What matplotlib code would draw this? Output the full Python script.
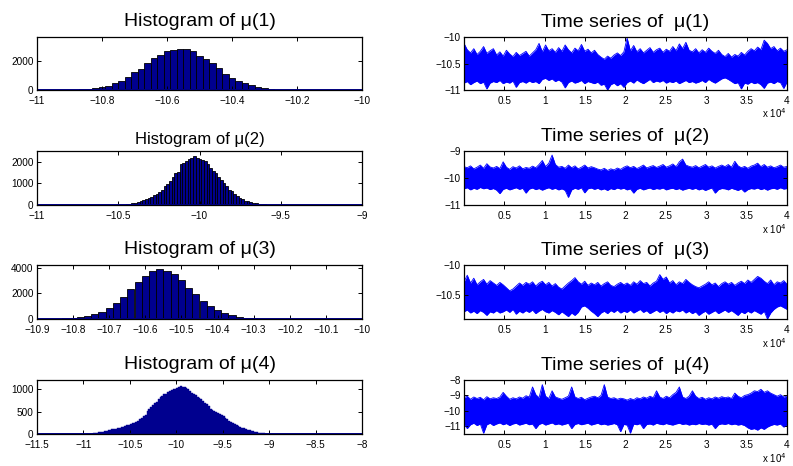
import numpy as np
import matplotlib
matplotlib.use("Agg")
import matplotlib.pyplot as plt
from matplotlib.ticker import FuncFormatter

plt.rcParams["font.family"] = ["Liberation Sans", "DejaVu Sans"]

# ---- histogram counts (bin start, bin width, counts) ----
h1_start, h1_width = -10.93, 0.02
h1_counts = [2, 6, 15, 35, 70, 120, 210, 300, 490, 660, 920, 1270, 1500, 1880, 2260,
             2470, 2700, 2820, 2890, 2890, 2750, 2400, 2160, 1860, 1530, 1130, 870, 660,
             520, 330, 210, 120, 70, 30, 15, 8, 4, 2, 1, 1, 1, 0, 0, 0, 1]

h2_start, h2_width = -10.60, 0.0165
h2_counts = [1, 1, 2, 3, 4, 6, 9, 14, 20, 30,
             45, 75, 110, 140, 185, 245, 280, 320, 385, 445, 520, 585, 710, 860, 970,
             1090, 1310, 1460, 1540, 1890, 1960, 2040, 2110, 2190, 2270, 2190, 2110, 2100,
             2060, 1890, 1710, 1580, 1460, 1310, 1150, 1000, 860, 710, 630, 510, 415, 340,
             280, 200, 170, 125, 90, 75, 60, 45, 30, 15,
             10, 6, 4, 2, 1, 1]

h3_start, h3_width = -10.89, 0.02
h3_counts = [5, 10, 20, 40,
             80, 130, 210, 415, 545, 830, 1270, 1740, 2310, 2910, 3350, 3740, 3870, 3740,
             3480, 3010, 2390, 1970, 1430, 1040, 700, 470, 285, 155, 105, 50,
             25, 12, 6, 3, 2, 1, 1, 0, 0, 1]

h4_start, h4_width = -10.96, 0.02
h4_counts = [3, 5, 8, 12, 20, 28, 35, 45, 55, 65,
             75, 85, 95, 105, 112, 120, 128, 135, 148, 160,
             175, 190, 205, 220, 235, 252, 270, 300, 330, 360,
             395, 430, 520, 560, 600, 640, 680, 720, 770, 820,
             850, 880, 900, 925, 950, 975, 995, 1010, 1025, 1040,
             1065, 1050, 1040, 1020, 990, 960, 920, 890, 860, 830,
             800, 770, 730, 700, 660, 620, 560, 540, 510, 490,
             470, 450, 420, 390, 360, 330, 300, 270, 245, 220,
             195, 175, 155, 140, 125, 115, 100, 88, 75, 62,
             52, 42, 33, 25, 18, 13, 9, 6, 4, 2]

# ---- chain traces: upper / lower envelope every ~400 iterations ----
n_iter = 40000
ts1_hi = [-10.12, -10.24, -10.30, -10.22, -10.33, -10.27, -10.18, -10.31, -10.26, -10.22,
          -10.34, -10.28, -10.36, -10.25, -10.32, -10.37, -10.29, -10.35, -10.31, -10.27,
          -10.36, -10.30, -10.24, -10.12, -10.28, -10.15, -10.26, -10.22, -10.29, -10.20,
          -10.27, -10.15, -10.24, -10.30, -10.21, -10.26, -10.14, -10.27, -10.23, -10.30,
          -10.25, -10.33, -10.38, -10.42, -10.36, -10.40, -10.34, -10.30, -10.35, -10.28,
          -10.02, -10.26, -10.16, -10.28, -10.22, -10.30, -10.25, -10.20, -10.29, -10.24,
          -10.21, -10.29, -10.23, -10.27, -10.18, -10.26, -10.13, -10.22, -10.10, -10.25,
          -10.28, -10.22, -10.30, -10.24, -10.29, -10.21, -10.27, -10.31, -10.25, -10.33,
          -10.37, -10.31, -10.38, -10.33, -10.36, -10.29, -10.34, -10.27, -10.22, -10.26,
          -10.19, -10.24, -10.06, -10.12, -10.22, -10.18, -10.26, -10.21, -10.27, -10.24]
ts1_lo = [-10.87, -10.84, -10.90, -10.86, -10.83, -10.88, -10.85, -10.98, -10.87, -10.84,
          -10.86, -10.82, -10.88, -10.85, -10.87, -10.83, -10.95, -10.86, -10.84, -10.87,
          -10.83, -10.86, -10.84, -10.88, -10.80, -10.78, -10.82, -10.79, -10.84, -10.81,
          -10.85, -10.96, -10.86, -10.83, -10.87, -10.85, -10.82, -10.88, -10.84, -10.86,
          -10.88, -10.85, -10.91, -10.89, -11.00, -10.90, -10.87, -10.92, -10.88, -10.95,
          -10.86, -10.83, -10.87, -10.81, -10.85, -10.88, -10.84, -10.80, -10.86, -10.83,
          -10.85, -10.82, -10.87, -10.84, -10.86, -10.83, -10.88, -10.85, -10.82, -10.86,
          -10.84, -10.87, -10.85, -10.82, -10.86, -10.80, -10.84, -10.87, -10.83, -10.79,
          -10.77, -10.80, -10.84, -10.88, -10.86, -10.98, -10.87, -10.89, -10.85, -10.88,
          -10.86, -10.90, -10.97, -10.87, -10.85, -10.88, -10.84, -10.86, -10.97, -10.85]

ts2_hi = [-9.58, -9.62, -9.55, -9.66, -9.60, -9.52, -9.64, -9.47, -9.59, -9.63,
          -9.57, -9.65, -9.40, -9.60, -9.68, -9.58, -9.63, -9.55, -9.66, -9.61,
          -9.64, -9.56, -9.62, -9.50, -9.35, -9.58, -9.45, -9.15, -9.50, -9.60,
          -9.57, -9.64, -9.52, -9.62, -9.55, -9.66, -9.60, -9.52, -9.63, -9.58,
          -9.62, -9.67, -9.70, -9.64, -9.72, -9.66, -9.70, -9.63, -9.68, -9.60,
          -9.55, -9.62, -9.57, -9.65, -9.59, -9.52, -9.63, -9.58, -9.54, -9.61,
          -9.56, -9.50, -9.60, -9.55, -9.48, -9.58, -9.40, -9.30, -9.52, -9.57,
          -9.60, -9.54, -9.62, -9.56, -9.50, -9.60, -9.55, -9.63, -9.57, -9.52,
          -9.58, -9.50, -9.60, -9.38, -9.55, -9.62, -9.57, -9.64, -9.56, -9.52,
          -9.45, -9.58, -9.50, -9.60, -9.55, -9.62, -9.58, -9.52, -9.60, -9.57]
ts2_lo = [-10.40, -10.36, -10.44, -10.38, -10.42, -10.35, -10.40, -10.37, -10.43, -10.39,
          -10.45, -10.58, -10.42, -10.38, -10.44, -10.40, -10.36, -10.42, -10.38, -10.56,
          -10.41, -10.37, -10.43, -10.39, -10.45, -10.40, -10.36, -10.42, -10.38, -10.44,
          -10.40, -10.46, -10.72, -10.44, -10.38, -10.42, -10.36, -10.55, -10.40, -10.37,
          -10.42, -10.38, -10.44, -10.40, -10.46, -10.39, -10.43, -10.37, -10.41, -10.38,
          -10.44, -10.40, -10.56, -10.42, -10.38, -10.44, -10.40, -10.37, -10.43, -10.39,
          -10.41, -10.37, -10.44, -10.40, -10.38, -10.43, -10.39, -10.45, -10.41, -10.38,
          -10.42, -10.38, -10.44, -10.40, -10.46, -10.41, -10.37, -10.56, -10.43, -10.39,
          -10.40, -10.44, -10.38, -10.42, -10.46, -10.40, -10.52, -10.43, -10.39, -10.41,
          -10.37, -10.43, -10.39, -10.45, -10.40, -10.38, -10.42, -10.36, -10.41, -10.39]

ts3_hi = [-10.28, -10.17, -10.30, -10.22, -10.33, -10.28, -10.24, -10.32, -10.26, -10.30,
          -10.34, -10.29, -10.33, -10.38, -10.43, -10.40, -10.35, -10.30, -10.34, -10.29,
          -10.32, -10.28, -10.35, -10.30, -10.27, -10.33, -10.29, -10.35, -10.31, -10.37,
          -10.40, -10.35, -10.30, -10.26, -10.21, -10.28, -10.32, -10.27, -10.34, -10.30,
          -10.33, -10.29, -10.35, -10.31, -10.28, -10.34, -10.36, -10.32, -10.29, -10.33,
          -10.30, -10.34, -10.28, -10.32, -10.26, -10.31, -10.29, -10.35, -10.30, -10.27,
          -10.16, -10.24, -10.20, -10.30, -10.26, -10.33, -10.28, -10.31, -10.24, -10.29,
          -10.33, -10.36, -10.38, -10.35, -10.32, -10.28, -10.33, -10.30, -10.36, -10.31,
          -10.28, -10.32, -10.29, -10.34, -10.30, -10.27, -10.31, -10.25, -10.29, -10.24,
          -10.19, -10.22, -10.27, -10.31, -10.25, -10.33, -10.28, -10.30, -10.26, -10.32]
ts3_lo = [-10.78, -10.75, -10.80, -10.77, -10.81, -10.76, -10.79, -10.84, -10.78, -10.80,
          -10.76, -10.80, -10.78, -10.75, -10.79, -10.74, -10.82, -10.77, -10.80, -10.76,
          -10.79, -10.75, -10.81, -10.77, -10.74, -10.78, -10.80, -10.76, -10.79, -10.83,
          -10.78, -10.82, -10.86, -10.80, -10.84, -10.79, -10.70, -10.68, -10.72, -10.77,
          -10.81, -10.86, -10.80, -10.77, -10.81, -10.76, -10.79, -10.75, -10.80, -10.77,
          -10.79, -10.75, -10.80, -10.77, -10.74, -10.79, -10.76, -10.81, -10.78, -10.75,
          -10.79, -10.76, -10.81, -10.77, -10.80, -10.76, -10.78, -10.75, -10.80, -10.77,
          -10.81, -10.78, -10.84, -10.80, -10.77, -10.82, -10.79, -10.76, -10.81, -10.78,
          -10.75, -10.79, -10.76, -10.80, -10.84, -10.78, -10.81, -10.77, -10.80, -10.76,
          -10.79, -10.82, -10.77, -10.90, -10.80, -10.74, -10.70, -10.68, -10.71, -10.74]

ts4_hi = [-9.15, -9.05, -9.25, -9.10, -9.20, -9.12, -9.28, -9.08, -9.22, -9.15,
          -9.20, -9.10, -8.80, -9.05, -9.25, -9.15, -9.22, -9.10, -9.18, -9.02,
          -9.10, -8.45, -8.95, -9.15, -8.30, -9.05, -9.20, -8.70, -9.10, -9.18,
          -9.25, -9.15, -9.05, -8.45, -9.10, -9.20, -9.12, -9.28, -9.18, -9.10,
          -9.05, -9.15, -9.00, -8.30, -9.10, -9.20, -9.15, -9.25, -9.18, -9.22,
          -9.30, -9.20, -9.28, -9.15, -9.22, -9.10, -9.18, -9.05, -9.15, -8.70,
          -9.10, -9.20, -9.05, -9.15, -8.95, -8.80, -8.45, -9.10, -9.20, -9.05,
          -8.70, -9.05, -9.20, -9.12, -9.25, -9.15, -9.22, -9.10, -9.18, -9.08,
          -9.15, -9.10, -9.20, -8.85, -9.05, -9.15, -9.00, -8.95, -8.85, -8.70,
          -8.75, -8.60, -8.80, -8.70, -8.85, -8.95, -9.05, -8.95, -9.10, -9.05]
ts4_lo = [-10.85, -11.15, -10.90, -10.80, -10.95, -10.85, -11.45, -10.90, -10.80, -10.95,
          -10.85, -10.78, -10.90, -10.82, -10.95, -10.85, -10.80, -10.92, -10.86, -10.80,
          -10.90, -10.85, -11.15, -10.88, -10.80, -10.92, -10.85, -10.78, -10.90, -10.84,
          -10.92, -10.86, -10.80, -11.15, -10.88, -10.82, -10.90, -10.85, -10.80, -10.92,
          -10.86, -10.80, -10.90, -10.85, -10.92, -10.88, -10.82, -10.90, -11.35, -10.88,
          -10.92, -11.45, -10.86, -10.90, -10.82, -11.15, -10.88, -10.85, -10.92, -10.80,
          -10.86, -10.90, -10.82, -10.88, -10.92, -10.85, -10.80, -10.88, -10.84, -10.92,
          -10.86, -10.90, -10.82, -10.88, -10.85, -10.92, -10.86, -11.15, -10.90, -10.84,
          -10.88, -10.82, -10.90, -10.85, -10.92, -10.88, -10.95, -11.10, -11.20, -11.15,
          -11.25, -11.10, -11.20, -11.05, -10.95, -10.88, -10.92, -10.85, -11.05, -10.90]

# ---- axis settings per row ----
hist_xlims = [(-11, -10), (-11, -9), (-10.9, -10), (-11.5, -8)]
hist_xstep = [0.2, 0.5, 0.1, 0.5]
hist_ylims = [3700, 2500, 4200, 1200]
hist_yticks = [[0, 2000], [0, 1000, 2000], [0, 2000, 4000], [0, 500, 1000]]
ts_ylims = [(-11, -10), (-11, -9), (-10.9, -10), (-11.5, -8)]
ts_yticks = [[-11, -10.5, -10], [-11, -10, -9], [-10.5, -10], [-11, -10, -9, -8]]

NAVY = "#00008f"
fmt_g = FuncFormatter(lambda v, p: f"{v:g}".replace("-", "\u2212"))


def style(ax):
    ax.tick_params(direction="in", top=True, right=True, length=3, width=0.7,
                   labelsize=7.2)
    ax.tick_params(axis="x", pad=4.5)
    ax.tick_params(axis="y", pad=2.5)
    for s in ax.spines.values():
        s.set_linewidth(0.9)


fig = plt.figure(figsize=(7.93, 4.66), dpi=100)
W, H = 793.0, 466.0
row_px = [(37, 90), (151, 205), (265, 319), (380, 434)]

hists = [(h1_start, h1_width, h1_counts), (h2_start, h2_width, h2_counts),
         (h3_start, h3_width, h3_counts), (h4_start, h4_width, h4_counts)]
traces = [(ts1_hi, ts1_lo), (ts2_hi, ts2_lo), (ts3_hi, ts3_lo), (ts4_hi, ts4_lo)]

for i in range(4):
    top, bot = row_px[i]
    y0 = 1 - bot / H
    hh = (bot - top) / H

    # left: histogram
    ax = fig.add_axes([37 / W, y0, (362 - 37) / W, hh])
    start, width, counts = hists[i]
    edges = start + width * np.arange(len(counts))
    if i == 3:
        ax.bar(edges, counts, width=width, align="edge", color=NAVY,
               edgecolor=NAVY, linewidth=0.3)
    else:
        ax.bar(edges, counts, width=width, align="edge", color=NAVY,
               edgecolor="black", linewidth=0.6)
    ax.axhline(0, color=NAVY, linewidth=1.4)
    lo, hi = hist_xlims[i]
    ax.set_xlim(lo, hi)
    ax.set_xticks(np.arange(lo, hi + 1e-9, hist_xstep[i]))
    ax.set_ylim(0, hist_ylims[i])
    ax.set_yticks(hist_yticks[i])
    ax.xaxis.set_major_formatter(fmt_g)
    ax.yaxis.set_major_formatter(fmt_g)
    style(ax)
    if i == 1:
        ax.set_title(f"Histogram of \u03bc({i + 1})", fontsize=12, pad=5)
    else:
        ax.set_title(f"Histogram of \u03bc({i + 1})", fontsize=14, pad=8)

    # right: trace of the chain
    ax = fig.add_axes([464 / W, y0, (787 - 464) / W, hh])
    up, dn = traces[i]
    x = np.linspace(1, n_iter, len(up))
    ax.fill_between(x, dn, up, color="#0000ff", linewidth=0)
    ax.plot(x, up, color="#0000ff", linewidth=0.6)
    ax.plot(x, dn, color="#0000ff", linewidth=0.6)
    ax.set_xlim(1, n_iter)
    ax.set_xticks(np.arange(5000, 40001, 5000))
    ax.xaxis.set_major_formatter(FuncFormatter(lambda v, p: f"{v / 1e4:g}"))
    ax.set_ylim(*ts_ylims[i])
    ax.set_yticks(ts_yticks[i])
    ax.yaxis.set_major_formatter(fmt_g)
    style(ax)
    ax.set_title(f"Time series of  \u03bc({i + 1})", fontsize=14, pad=7)
    ax.text(1.0, -0.44, r"x 10$^4$", transform=ax.transAxes, ha="right",
            va="center", fontsize=7)

fig.savefig("out.png", dpi=100, facecolor="white")
